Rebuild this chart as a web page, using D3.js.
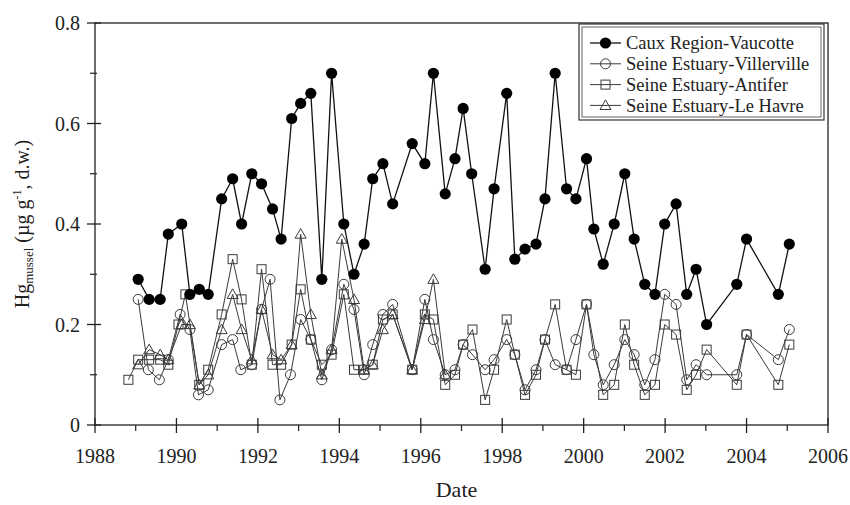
<!DOCTYPE html>
<html>
<head>
<meta charset="utf-8">
<script src="https://cdn.jsdelivr.net/npm/d3@7"></script>
<style>
  html, body { margin: 0; padding: 0; background: #fff; }
  svg { display: block; font-family: "Liberation Serif", "Times New Roman", serif; }
</style>
</head>
<body>
<svg id="chart" width="850" height="505"></svg>
<script>
// Mercury in mussels (µg g-1 dry weight) by sampling date
const cauxDates = [1989.06, 1989.33, 1989.60, 1989.80, 1990.13, 1990.33, 1990.56, 1990.78, 1991.11, 1991.38,
  1991.60, 1991.85, 1992.09, 1992.36, 1992.57, 1992.83, 1993.05, 1993.30, 1993.57, 1993.81,
  1994.11, 1994.36, 1994.61, 1994.82, 1995.07, 1995.31, 1995.79, 1996.10, 1996.31, 1996.60,
  1996.84, 1997.04, 1997.25, 1997.58, 1997.80, 1998.11, 1998.31, 1998.56, 1998.83, 1999.05,
  1999.30, 1999.58, 1999.81, 2000.07, 2000.25, 2000.48, 2000.75, 2001.01, 2001.24, 2001.50,
  2001.75, 2001.99, 2002.27, 2002.53, 2002.76, 2003.02, 2003.76, 2004.00, 2004.78, 2005.05];
const cauxValues = [0.29, 0.25, 0.25, 0.38, 0.40, 0.26, 0.27, 0.26, 0.45, 0.49,
  0.40, 0.50, 0.48, 0.43, 0.37, 0.61, 0.64, 0.66, 0.29, 0.70,
  0.40, 0.30, 0.36, 0.49, 0.52, 0.44, 0.56, 0.52, 0.70, 0.46,
  0.53, 0.63, 0.50, 0.31, 0.47, 0.66, 0.33, 0.35, 0.36, 0.45,
  0.70, 0.47, 0.45, 0.53, 0.39, 0.32, 0.40, 0.50, 0.37, 0.28,
  0.26, 0.40, 0.44, 0.26, 0.31, 0.20, 0.28, 0.37, 0.26, 0.36];

const villeDates = [1989.06, 1989.31, 1989.58, 1989.80, 1990.09, 1990.33, 1990.54, 1990.78, 1991.11, 1991.38,
  1991.58, 1991.85, 1992.09, 1992.30, 1992.54, 1992.80, 1993.05, 1993.30, 1993.57, 1993.81,
  1994.11, 1994.36, 1994.61, 1994.82, 1995.07, 1995.31, 1995.79, 1996.10, 1996.31, 1996.60,
  1996.84, 1997.04, 1997.27, 1997.58, 1997.80, 1998.11, 1998.31, 1998.56, 1998.83, 1999.05,
  1999.30, 1999.58, 1999.81, 2000.07, 2000.25, 2000.48, 2000.75, 2001.01, 2001.24, 2001.50,
  2001.75, 2001.99, 2002.27, 2002.53, 2002.76, 2003.02, 2003.76, 2004.00, 2004.78, 2005.05];
const villeValues = [0.25, 0.11, 0.09, 0.13, 0.22, 0.19, 0.06, 0.07, 0.16, 0.17,
  0.11, 0.12, 0.23, 0.29, 0.05, 0.10, 0.21, 0.17, 0.09, 0.15,
  0.28, 0.23, 0.10, 0.16, 0.22, 0.24, 0.11, 0.25, 0.17, 0.10,
  0.11, 0.16, 0.14, 0.11, 0.13, 0.17, 0.14, 0.07, 0.11, 0.17,
  0.12, 0.11, 0.17, 0.24, 0.14, 0.08, 0.12, 0.17, 0.14, 0.08,
  0.13, 0.26, 0.24, 0.09, 0.12, 0.10, 0.10, 0.18, 0.13, 0.19];

const antiferDates = [1988.82, 1989.06, 1989.33, 1989.60, 1989.80, 1990.05, 1990.22, 1990.56, 1990.78, 1991.11,
  1991.38, 1991.60, 1991.85, 1992.09, 1992.36, 1992.57, 1992.83, 1993.05, 1993.30, 1993.57,
  1993.81, 1994.11, 1994.36, 1994.61, 1994.82, 1995.07, 1995.31, 1995.79, 1996.10, 1996.31,
  1996.60, 1996.84, 1997.04, 1997.27, 1997.58, 1997.80, 1998.11, 1998.31, 1998.56, 1998.83,
  1999.05, 1999.30, 1999.58, 1999.81, 2000.07, 2000.48, 2000.75, 2001.01, 2001.24, 2001.50,
  2001.75, 2001.99, 2002.27, 2002.53, 2002.76, 2003.02, 2003.76, 2004.00, 2004.78, 2005.05];
const antiferValues = [0.09, 0.13, 0.13, 0.13, 0.12, 0.20, 0.26, 0.08, 0.11, 0.22,
  0.33, 0.25, 0.12, 0.31, 0.12, 0.12, 0.16, 0.27, 0.17, 0.12,
  0.14, 0.26, 0.11, 0.11, 0.12, 0.21, 0.22, 0.11, 0.22, 0.21,
  0.08, 0.10, 0.16, 0.19, 0.05, 0.11, 0.21, 0.14, 0.06, 0.10,
  0.17, 0.24, 0.11, 0.10, 0.24, 0.06, 0.08, 0.20, 0.12, 0.06,
  0.08, 0.20, 0.18, 0.07, 0.10, 0.15, 0.08, 0.18, 0.08, 0.16];

const havreDates = [1989.06, 1989.33, 1989.60, 1989.80, 1990.13, 1990.33, 1990.56, 1990.78, 1991.11, 1991.38,
  1991.60, 1991.85, 1992.09, 1992.36, 1992.57, 1992.83, 1993.05, 1993.30, 1993.57, 1993.81,
  1994.06, 1994.36, 1994.61, 1994.82, 1995.07, 1995.31, 1995.79, 1996.10, 1996.31, 1996.60];
const havreValues = [0.12, 0.15, 0.14, 0.13, 0.20, 0.20, 0.08, 0.10, 0.19, 0.26,
  0.19, 0.13, 0.23, 0.14, 0.13, 0.16, 0.38, 0.22, 0.10, 0.15,
  0.37, 0.25, 0.11, 0.12, 0.19, 0.22, 0.11, 0.21, 0.29, 0.10];

const seriesNames = ["Caux Region-Vaucotte", "Seine Estuary-Villerville", "Seine Estuary-Antifer", "Seine Estuary-Le Havre"];
const xTickYears = [1988, 1990, 1992, 1994, 1996, 1998, 2000, 2002, 2004, 2006];
const xMinorYears = [1989, 1991, 1993, 1995, 1997, 1999, 2001, 2003, 2005];
const yTickValues = [0, 0.2, 0.4, 0.6, 0.8];
const yMinorValues = [0.1, 0.3, 0.5, 0.7];

const svg = d3.select("#chart");
const plotLeft = 95, plotRight = 828, plotTop = 23, plotBottom = 425;

const x = d3.scaleLinear().domain([1988, 2006]).range([plotLeft, plotRight]);
const y = d3.scaleLinear().domain([0, 0.8]).range([plotBottom, plotTop]);

const zip = (ds, vs) => ds.map((d, i) => ({ date: d, value: vs[i] }));
const series = [
  { name: seriesNames[0], data: zip(cauxDates, cauxValues), marker: "dot", color: "#111", width: 1.3 },
  { name: seriesNames[1], data: zip(villeDates, villeValues), marker: "circle", color: "#3a3a3a", width: 1 },
  { name: seriesNames[2], data: zip(antiferDates, antiferValues), marker: "square", color: "#3a3a3a", width: 1 },
  { name: seriesNames[3], data: zip(havreDates, havreValues), marker: "triangle", color: "#3a3a3a", width: 1 }
];

// Draw a marker symbol at (cx, cy)
function drawMarker(g, kind, cx, cy, color) {
  if (kind === "dot") {
    g.append("circle").attr("cx", cx).attr("cy", cy).attr("r", 5.6).attr("fill", "#000");
  } else if (kind === "circle") {
    g.append("circle").attr("cx", cx).attr("cy", cy).attr("r", 5)
      .attr("fill", "none").attr("stroke", color).attr("stroke-width", 1);
  } else if (kind === "square") {
    g.append("rect").attr("x", cx - 4.5).attr("y", cy - 4.5).attr("width", 9).attr("height", 9)
      .attr("fill", "none").attr("stroke", color).attr("stroke-width", 1);
  } else {
    const s = 5.5;
    g.append("path").attr("d", `M${cx},${cy - s}L${cx + s},${cy + s * 0.75}L${cx - s},${cy + s * 0.75}Z`)
      .attr("fill", "none").attr("stroke", color).attr("stroke-width", 1);
  }
}

const line = d3.line().x(d => x(d.date)).y(d => y(d.value));

// Series lines and markers, lower series first so the Caux series sits on top
const plot = svg.append("g");
[3, 2, 1, 0].forEach(i => {
  const s = series[i];
  const g = plot.append("g");
  g.append("path").datum(s.data).attr("d", line)
    .attr("fill", "none").attr("stroke", s.color).attr("stroke-width", s.width);
  s.data.forEach(d => drawMarker(g, s.marker, x(d.date), y(d.value), s.color));
});

// Frame
const axisColor = "#222";
svg.append("rect").attr("x", plotLeft).attr("y", plotTop).attr("width", plotRight - plotLeft).attr("height", plotBottom - plotTop)
  .attr("fill", "none").attr("stroke", axisColor).attr("stroke-width", 1.3);

// X axis ticks and labels
const xAxis = svg.append("g");
xTickYears.forEach(t => {
  xAxis.append("line").attr("x1", x(t)).attr("x2", x(t)).attr("y1", plotBottom - 7).attr("y2", plotBottom + 8)
    .attr("stroke", axisColor).attr("stroke-width", 1.3);
  xAxis.append("text").attr("x", x(t)).attr("y", plotBottom + 38).attr("text-anchor", "middle")
    .attr("font-size", 20).attr("fill", "#222").text(t);
});
xMinorYears.forEach(t => {
  xAxis.append("line").attr("x1", x(t)).attr("x2", x(t)).attr("y1", plotBottom).attr("y2", plotBottom + 6)
    .attr("stroke", axisColor).attr("stroke-width", 1.2);
});

// Y axis ticks and labels
const yAxis = svg.append("g");
yTickValues.forEach(t => {
  yAxis.append("line").attr("x1", plotLeft - 8).attr("x2", plotLeft + 6).attr("y1", y(t)).attr("y2", y(t))
    .attr("stroke", axisColor).attr("stroke-width", 1.3);
  yAxis.append("text").attr("x", plotLeft - 15).attr("y", y(t)).attr("dy", "0.35em").attr("text-anchor", "end")
    .attr("font-size", 20).attr("fill", "#222").text(t === 0 ? "0" : d3.format(".1f")(t));
});
yMinorValues.forEach(t => {
  yAxis.append("line").attr("x1", plotLeft - 5).attr("x2", plotLeft + 2).attr("y1", y(t)).attr("y2", y(t))
    .attr("stroke", axisColor).attr("stroke-width", 1.2);
});

// Axis titles
svg.append("text").attr("x", (plotLeft + plotRight) / 2 - 5).attr("y", 497).attr("text-anchor", "middle")
  .attr("font-size", 22).attr("fill", "#222").text("Date");

const yTitle = svg.append("text").attr("transform", "translate(29,224) rotate(-90)")
  .attr("text-anchor", "middle").attr("font-size", 20).attr("fill", "#222");
yTitle.append("tspan").text("Hg");
yTitle.append("tspan").attr("font-size", 13).attr("dy", 4).text("mussel");
yTitle.append("tspan").attr("dy", -4).text(" (µg g");
yTitle.append("tspan").attr("font-size", 12).attr("dy", -8).text("-1");
yTitle.append("tspan").attr("dy", 8).text(", d.w.)");

// Legend
const legend = svg.append("g");
legend.append("rect").attr("x", 579).attr("y", 24).attr("width", 245).attr("height", 96)
  .attr("fill", "#fff").attr("stroke", "#333").attr("stroke-width", 1.2);
legend.append("rect").attr("x", 582).attr("y", 27).attr("width", 239).attr("height", 90)
  .attr("fill", "none").attr("stroke", "#555").attr("stroke-width", 0.9);
series.forEach((s, i) => {
  const cy = 43 + i * 20.8;
  legend.append("line").attr("x1", 590).attr("x2", 621).attr("y1", cy).attr("y2", cy)
    .attr("stroke", s.color).attr("stroke-width", s.width);
  drawMarker(legend, s.marker, 605.5, cy, s.color);
  legend.append("text").attr("x", 626).attr("y", cy).attr("dy", "0.33em")
    .attr("font-size", 18.5).attr("fill", "#222").text(s.name);
});
</script>
</body>
</html>
